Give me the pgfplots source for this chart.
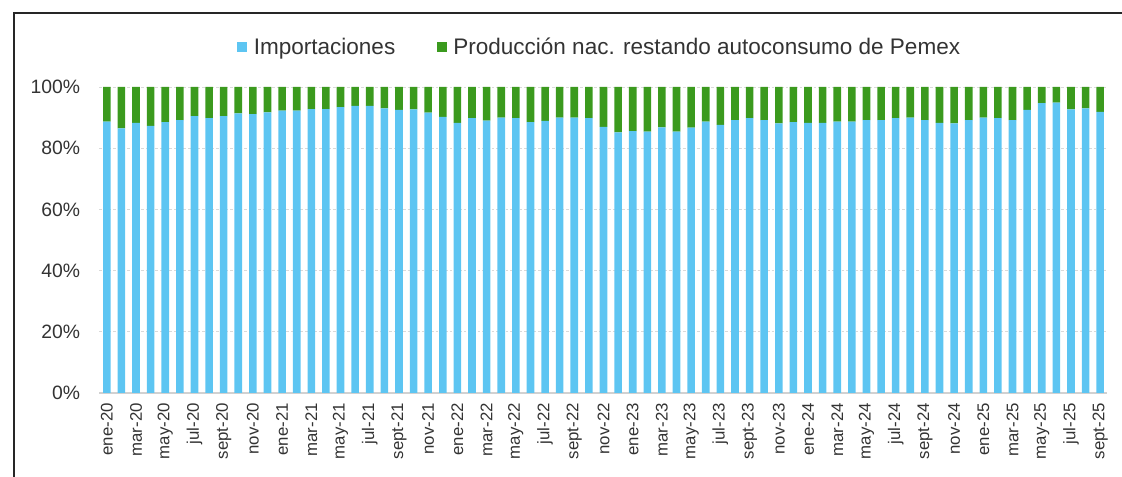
\documentclass[border=0pt]{standalone}
\usepackage{fontspec}
\setmainfont{Liberation Sans}
\usepackage{pgfplots}
\usepackage{pgfplotstable}
\pgfplotsset{compat=1.18}
\definecolor{impblue}{HTML}{5DC5F2}
\definecolor{prodgreen}{HTML}{3B9A1E}
\definecolor{txt}{HTML}{333333}
\pgfplotstableread{
x imp prod
0 88.7 11.3
1 86.5 13.5
2 88.3 11.7
3 87.3 12.7
4 88.5 11.5
5 89.2 10.8
6 90.5 9.5
7 89.8 10.2
8 90.5 9.5
9 91.4 8.6
10 91.1 8.9
11 91.7 8.3
12 92.3 7.7
13 92.3 7.7
14 92.8 7.2
15 92.8 7.2
16 93.4 6.6
17 93.8 6.2
18 93.8 6.2
19 93.0 7.0
20 92.5 7.5
21 92.7 7.3
22 91.6 8.4
23 90.2 9.8
24 88.3 11.7
25 89.8 10.2
26 89.0 11.0
27 90.0 10.0
28 89.8 10.2
29 88.5 11.5
30 88.9 11.1
31 90.0 10.0
32 90.0 10.0
33 89.8 10.2
34 87.0 13.0
35 85.2 14.8
36 85.6 14.4
37 85.4 14.6
38 86.8 13.2
39 85.4 14.6
40 86.7 13.3
41 88.7 11.3
42 87.6 12.4
43 89.2 10.8
44 89.8 10.2
45 89.2 10.8
46 88.1 11.9
47 88.5 11.5
48 88.3 11.7
49 88.3 11.7
50 88.7 11.3
51 88.7 11.3
52 89.2 10.8
53 89.2 10.8
54 89.8 10.2
55 90.0 10.0
56 89.2 10.8
57 88.3 11.7
58 88.1 11.9
59 89.2 10.8
60 90.0 10.0
61 89.8 10.2
62 89.2 10.8
63 92.5 7.5
64 94.7 5.3
65 94.9 5.1
66 92.7 7.3
67 93.0 7.0
68 91.9 8.1
}\data
\begin{document}
\begin{tikzpicture}
\useasboundingbox (0,0) rectangle (841.5pt,357.75pt);
\draw[line width=1.5pt, black!85] (10.5pt,0) -- (10.5pt,348pt) -- (841.5pt,348pt);
\begin{axis}[
  at={(74.625pt,63pt)}, anchor=south west,
  scale only axis, width=756pt, height=229.5pt,
  xmin=-0.5, xmax=68.5, ymin=0, ymax=100,
  ybar stacked, bar width=0.52,
  axis x line*=bottom, axis y line*=left,
  y axis line style={draw=none},
  x axis line style={draw=black!18, line width=0.8pt},
  tick style={draw=none},
  ytick={0,20,...,100},
  /pgf/number format/assume math mode=true,
  yticklabel={\pgfmathprintnumber{\tick}\%},
  y tick label style={font=\fontsize{14.5}{17}\selectfont, text=txt, xshift=-11pt},
  ymajorgrids, grid style={draw=black!15, dash pattern=on 2pt off 1.5pt, line width=0.6pt},
  xtick={0,2,...,68},
  xticklabels={ene-20,mar-20,may-20,jul-20,sept-20,nov-20,ene-21,mar-21,may-21,jul-21,sept-21,nov-21,ene-22,mar-22,may-22,jul-22,sept-22,nov-22,ene-23,mar-23,may-23,jul-23,sept-23,nov-23,ene-24,mar-24,may-24,jul-24,sept-24,nov-24,ene-25,mar-25,may-25,jul-25,sept-25},
  x tick label style={rotate=90, anchor=east, font=\fontsize{12.6}{14}\selectfont, text=txt, inner xsep=7.5pt},
  legend style={at={(0.4965,1.1307)}, anchor=center, draw=none, fill=none, legend columns=2,
    font=\fontsize{16.9}{20}\selectfont, text=txt,
    /tikz/every odd column/.append style={column sep=3pt},
    /tikz/every even column/.append style={column sep=29pt}},
  legend image code/.code={\fill[#1] (0pt,-3.75pt) rectangle (7.5pt,3.75pt);},
]
\addplot[fill=impblue, draw=none] table[x=x,y=imp]{\data};
\addplot[fill=prodgreen, draw=none] table[x=x,y=prod]{\data};
\legend{Importaciones, Producción nac. restando autoconsumo de Pemex}
\end{axis}
\end{tikzpicture}
\end{document}
